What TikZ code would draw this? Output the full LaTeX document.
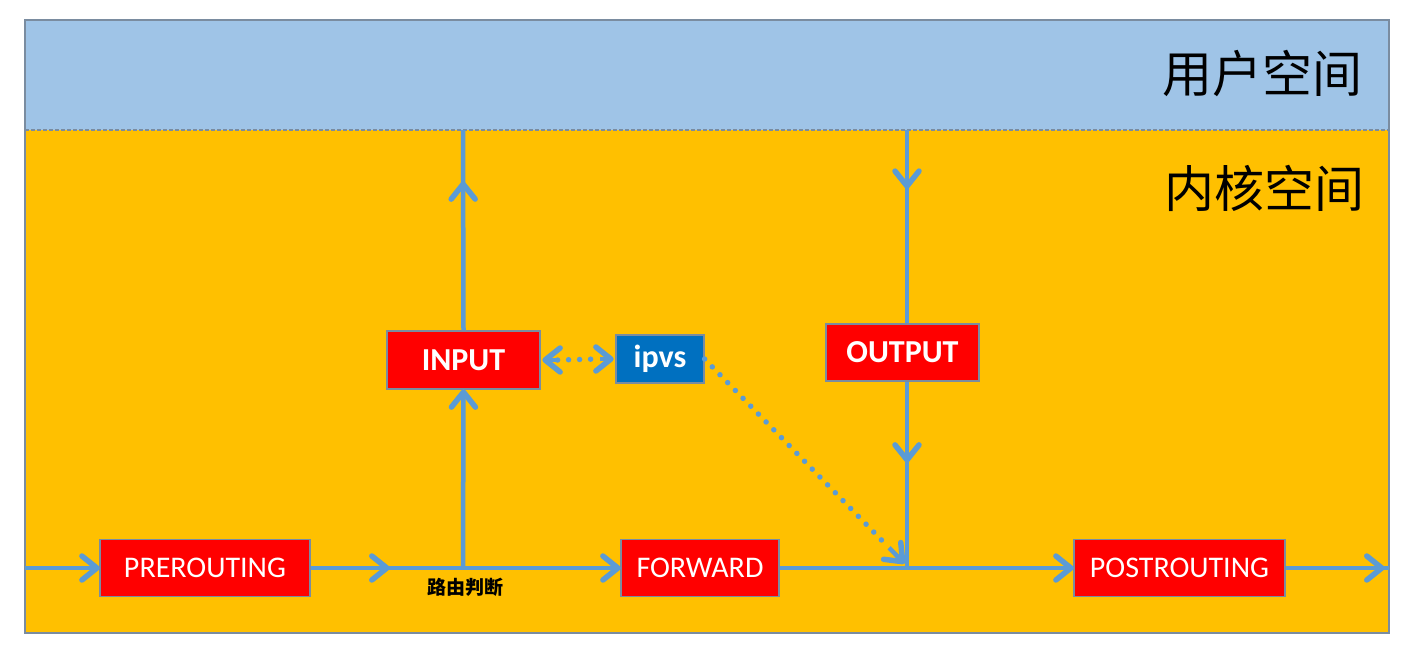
\documentclass[tikz,border=0pt]{standalone}
\usepackage{fontspec}
\setmainfont{Carlito}
\newfontfamily\cjk{Noto Sans CJK SC}
\usetikzlibrary{decorations.markings,calc}
\definecolor{linecol}{HTML}{5B9BD5}
\definecolor{userbg}{HTML}{9FC4E7}
\definecolor{kernbg}{HTML}{FFC000}
\definecolor{hookred}{HTML}{FF0000}
\definecolor{ipvsblue}{HTML}{0070C0}
\definecolor{framecol}{HTML}{7A8CA0}
\tikzset{
  hook/.style={draw=framecol, line width=1.2pt, fill=hookred, text=white,
    font=\fontsize{30}{34}\selectfont, inner sep=0pt},
  hookb/.style={hook, font=\bfseries\fontsize{32}{36}\selectfont},
  ipvsbox/.style={draw=framecol, line width=1.2pt, fill=ipvsblue, text=white,
    font=\bfseries\fontsize{32}{36}\selectfont, inner sep=0pt},
  flow/.style={draw=linecol, line width=4.5pt},
  chevmark/.style={postaction={decorate}, decoration={markings,
     mark=at position #1 with {\draw[linecol, solid, line width=5.5pt, line cap=round, line join=round]
        (-15pt,-12pt) -- (0pt,0pt) -- (-15pt,12pt);}}},
  flowend/.style={flow, chevmark=-0.5pt},
  midarrow/.style={flow, chevmark=#1},
  dotline/.style={draw=linecol, line width=5.5pt, line cap=round, dash pattern=on 0pt off 11pt},
  tipline/.style={draw=linecol, line width=4.5pt, chevmark=-0.5pt},
}
\begin{document}
\begin{tikzpicture}[x=1pt,y=-1pt]
\useasboundingbox (0,0) rectangle (1413,648);
% background areas
\fill[kernbg] (25,130) rectangle (1389,633);
\fill[userbg] (25,20) rectangle (1389,130);
\draw[framecol, line width=1.5pt] (25,20) rectangle (1389,633);
\draw[framecol, line width=1.2pt, dash pattern=on 4pt off 2pt] (25,130) -- (1389,130);
\node[anchor=east, font=\cjk\fontsize{50}{56}\selectfont] (user) at (1366,73) {用户空间};
\node[anchor=east, font=\cjk\fontsize{50}{56}\selectfont] (kern) at (1368,188) {内核空间};

% nodes
\node[hook, minimum width=210pt, minimum height=57pt] (pre) at (205,568) {PREROUTING};
\node[hook, minimum width=158pt, minimum height=57pt] (fwd) at (700,568) {FORWARD};
\node[hook, minimum width=211pt, minimum height=57pt] (post) at (1179.5,568) {POSTROUTING};
\node[hookb, minimum width=153pt, minimum height=58pt] (input) at (463.5,360) {INPUT};
\node[hookb, minimum width=153pt, minimum height=57pt] (output) at (902.5,352.5) {OUTPUT};
\node[ipvsbox, minimum width=88pt, minimum height=48pt] (ipvs) at (660,359) {ipvs};
\node[font=\cjk\bfseries\fontsize{19}{22}\selectfont, inner sep=0pt] (rlabel) at (465,587) {路由判断};

\coordinate (in) at (25,568);
\coordinate (route) at (463,568);
\coordinate (join) at (907,568);
\coordinate (out) at (1389,568);
\coordinate (utop) at (463,130);
\coordinate (otop) at (907,130);
\coordinate (jtip) at (903,562);

% connectors
\draw[flowend] (in) -- ([xshift=-2pt]pre.west);
\draw[midarrow=0.5] (pre.east) -- (route);
\draw[flowend] (route) -- ([xshift=-2pt]fwd.west);
\draw[flow] (fwd.east) -- (join);
\draw[flowend] (join) -- ([xshift=-2pt]post.west);
\draw[midarrow=0.93] (post.east) -- (out);
\draw[flowend] (route) -- ([yshift=-2pt]input.south);
\draw[midarrow=0.73] (input.north) -- (utop);
\draw[midarrow=0.29] (otop) -- (otop |- output.north);
\draw[midarrow=0.42] (join |- output.south) -- (join);
% dotted ipvs links
\draw[dotline] ([xshift=17pt]input.east) -- ([xshift=-17pt]ipvs.west);
\draw[tipline] ([xshift=15pt]input.east) -- ([xshift=4pt]input.east);
\draw[tipline] ([xshift=-15pt]ipvs.west) -- ([xshift=-4pt]ipvs.west);
\draw[dotline] (ipvs.east) -- ($(ipvs.east)!0.92!(jtip)$);
\draw[tipline] ($(ipvs.east)!0.93!(jtip)$) -- (jtip);
\end{tikzpicture}
\end{document}
